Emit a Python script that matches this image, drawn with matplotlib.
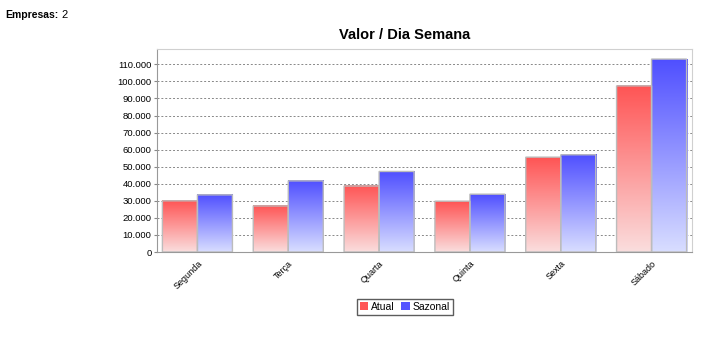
import numpy as np
import matplotlib
matplotlib.use("Agg")
import matplotlib.pyplot as plt
from matplotlib.colors import LinearSegmentedColormap
from matplotlib.ticker import FuncFormatter, MultipleLocator
from matplotlib.patches import Patch

categories = ["Segunda", "Terça", "Quarta", "Quinta", "Sexta", "Sábado"]
atual = [30000, 27000, 38700, 29800, 55600, 97400]
sazonal = [33500, 41700, 47200, 33900, 57000, 113100]
series_names = ["Atual", "Sazonal"]
title = "Valor / Dia Semana"

plt.rcParams['font.family'] = ['Liberation Sans', 'DejaVu Sans']

fig = plt.figure(figsize=(7.2, 3.38), dpi=100)
ax = fig.add_axes([157/720, 1-252/338, (692-157)/720, (252-49)/338])

x = np.arange(len(categories))
w = 0.3855
red_cmap = LinearSegmentedColormap.from_list("r", [(0.98, 0.87, 0.87), (1.0, 0.33, 0.33)])
blue_cmap = LinearSegmentedColormap.from_list("b", [(0.85, 0.87, 1.0), (0.31, 0.31, 1.0)])
grad = np.linspace(0, 1, 256).reshape(-1, 1)

for vals, offs, cmap in [(atual, -w/2, red_cmap), (sazonal, w/2, blue_cmap)]:
    bars = ax.bar(x + offs, vals, width=w, facecolor='none', edgecolor='#bcbcbc',
                  linewidth=1.0, zorder=3)
    for b in bars:
        b.set_snap(False)
        x0, h, bw = b.get_x(), b.get_height(), b.get_width()
        ax.imshow(grad, cmap=cmap, origin='lower', aspect='auto',
                  extent=[x0, x0 + bw, 0, h], zorder=2, interpolation='bilinear')

ax.set_xlim(-0.445, len(categories) - 1 + 0.445)
ax.set_ylim(0, 119000)
ax.yaxis.set_major_locator(MultipleLocator(10000))
ax.yaxis.set_major_formatter(FuncFormatter(lambda v, p: f"{int(v):,}".replace(",", ".")))
ax.grid(axis='y', color='#888888', linestyle=(0, (2, 2)), linewidth=0.7, zorder=1)
ax.set_axisbelow(True)

ax.set_xticks(x)
ax.set_xticklabels(categories, rotation=45, ha='right', rotation_mode='anchor', fontsize=6.5)
ax.tick_params(axis='x', length=0, pad=5)
ax.tick_params(axis='y', labelsize=6.8, length=2, color='#888888', pad=2)

for s in ['top', 'right']:
    ax.spines[s].set_color('#d0d0d0')
for s in ['left', 'bottom']:
    ax.spines[s].set_color('#999999')

fig.text(405/720, 1-35/338, title, ha='center', va='center', fontsize=10.5, fontweight='bold')
fig.text(5/720, 1-15/338, "Empresas:", ha='left', va='center', fontsize=7.5, fontweight='bold')
fig.text(61/720, 1-15/338, "2", ha='left', va='center', fontsize=8)

handles = [Patch(facecolor='#ff5555', edgecolor='none'), Patch(facecolor='#5555ff', edgecolor='none')]
leg = fig.legend(handles, series_names, loc='center', bbox_to_anchor=(405/720, 1-307/338),
                 ncol=2, fontsize=7.5, frameon=True, fancybox=False, handlelength=0.8,
                 handleheight=0.8, handletextpad=0.3, columnspacing=0.6, borderpad=0.3,
                 edgecolor='#333333')
leg.get_frame().set_linewidth(1.0)

fig.savefig("out.png", dpi=100)
